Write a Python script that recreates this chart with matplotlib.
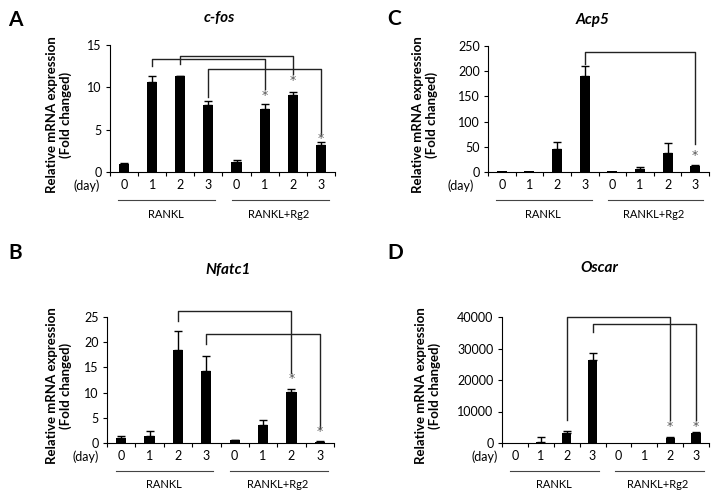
import numpy as np, matplotlib
matplotlib.use("Agg")
import matplotlib.pyplot as plt

plt.rcParams["font.family"] = ["Lato", "DejaVu Sans"]

W, H = 718, 499
DAYS = ["0", "1", "2", "3", "0", "1", "2", "3"]
GROUPS = ["RANKL", "RANKL+Rg2"]

# mean and absolute top of the (upper only) error bar
CFOS_MEAN = [1.0, 10.6, 11.3, 7.9, 1.2, 7.5, 9.1, 3.2]
CFOS_TOP = [1.1, 11.3, 11.35, 8.4, 1.45, 8.0, 9.4, 3.55]
NFATC1_MEAN = [0.9, 1.3, 18.55, 14.3, 0.5, 3.6, 10.1, 0.26]
NFATC1_TOP = [1.45, 2.3, 22.2, 17.3, 0.65, 4.6, 10.7, 0.4]
ACP5_MEAN = [1.0, 1.0, 46, 190, 1.0, 6.6, 38, 11]
ACP5_TOP = [1.0, 1.0, 60, 210, 1.0, 10, 58, 14.5]
OSCAR_MEAN = [1, 300, 3160, 26300, 1, 1, 1470, 3260]
OSCAR_TOP = [1, 1800, 3700, 28600, 1, 1, 2000, 3470]

# brackets: (left cat, right cat, top, left end, right end)
CFOS_BR = [(1, 5, 13.4, 12.5, 9.8), (2, 6, 13.7, 12.7, 11.6), (3, 7, 12.2, 8.8, 4.5)]
NFATC1_BR = [(2, 6, 26.1, 24.3, 13.8), (3, 7, 21.6, 19.7, 3.0)]
ACP5_BR = [(3, 7, 238, 215, 56)]
OSCAR_BR = [(2, 6, 40000, 7400, 7400), (3, 7, 37900, 35300, 7400)]
# asterisks: (cat, y)
CFOS_ST = [(5, 9.0), (6, 10.8), (7, 3.9)]
NFATC1_ST = [(6, 12.7), (7, 2.2)]
ACP5_ST = [(7, 33)]
OSCAR_ST = [(6, 5300), (7, 5300)]

# layout in pixels: axes box (x0, y_top, x1, y_bottom)
PANELS = [
    dict(letter="A", title="c-fos", mean=CFOS_MEAN, top=CFOS_TOP, br=CFOS_BR, st=CFOS_ST,
         yt=[0, 5, 10, 15], box=(110, 45, 335, 172), lpos=(15, 20), tpos=(219, 18),
         ylx=59, dayx=87),
    dict(letter="C", title="Acp5", mean=ACP5_MEAN, top=ACP5_TOP, br=ACP5_BR, st=ACP5_ST,
         yt=[0, 50, 100, 150, 200, 250], box=(488, 46, 709, 172), lpos=(394, 19), tpos=(593, 20),
         ylx=425, dayx=461),
    dict(letter="B", title="Nfatc1", mean=NFATC1_MEAN, top=NFATC1_TOP, br=NFATC1_BR, st=NFATC1_ST,
         yt=[0, 5, 10, 15, 20, 25], box=(107, 317, 334, 443), lpos=(15, 253), tpos=(228, 270),
         ylx=59, dayx=86),
    dict(letter="D", title="Oscar", mean=OSCAR_MEAN, top=OSCAR_TOP, br=OSCAR_BR, st=OSCAR_ST,
         yt=[0, 10000, 20000, 30000, 40000], box=(502, 317, 709, 443), lpos=(395, 253), tpos=(599, 268),
         ylx=428, dayx=485),
]

fig = plt.figure(figsize=(W / 100, H / 100), dpi=100)
fig.patch.set_facecolor("white")

for p in PANELS:
    x0, yt0, x1, yb = p["box"]
    ax = fig.add_axes([x0 / W, 1 - yb / H, (x1 - x0) / W, (yb - yt0) / H])
    ahp = yb - yt0
    x = np.arange(8) + 0.5
    mean = np.array(p["mean"], float); top = np.array(p["top"], float)
    has = top > mean
    ax.bar(x, mean, width=0.36, color="black", zorder=2)
    ax.errorbar(x[has], mean[has], yerr=[np.zeros(has.sum()), (top - mean)[has]], fmt="none",
                ecolor="black", elinewidth=1, capsize=3, capthick=1, zorder=1)
    ax.set_xlim(0, 8); ax.set_ylim(0, p["yt"][-1])
    ax.set_yticks(p["yt"])
    ax.set_xticks(np.arange(9)); ax.set_xticklabels([])
    ax.set_xticks(x, minor=True); ax.set_xticklabels(DAYS, minor=True)
    ax.tick_params(axis="x", which="major", length=3, width=0.8, direction="out")
    ax.tick_params(axis="x", which="minor", length=0, pad=5, labelsize=9)
    ax.tick_params(axis="y", length=3, width=0.8, labelsize=9, pad=3)
    for s in ["top", "right"]: ax.spines[s].set_visible(False)
    for s in ["left", "bottom"]: ax.spines[s].set_linewidth(0.8)
    # significance brackets
    for l, r, ytop, yl, yr in p["br"]:
        ax.plot([l + 0.5, l + 0.5, r + 0.5, r + 0.5], [yl, ytop, ytop, yr], color="#222222", lw=1,
                clip_on=False, zorder=3)
    for c, y in p["st"]:
        ax.text(c + 0.5, y, "*", ha="center", va="center", fontsize=9, color="#555555",
                family="DejaVu Sans")
    # group underline + labels
    tr = ax.get_xaxis_transform()
    for (a, b), g, gc in zip([(0.3, 3.75), (4.35, 7.8)], GROUPS, [2, 6]):
        ax.plot([a, b], [-28 / ahp, -28 / ahp], color="#444444", lw=0.8, transform=tr, clip_on=False)
        ax.text(gc, -42 / ahp, g, transform=tr, ha="center", va="center", fontsize=8)
    fig.text(p["dayx"] / W, 1 - (yb + 14) / H, "(day)", ha="center", va="center", fontsize=9)
    fig.text(p["ylx"] / W, 1 - ((yt0 + yb) / 2 + 6) / H, "Relative mRNA expression\n(Fold changed)",
             rotation=90, ha="center", va="center", fontsize=9.5, fontweight="bold", linespacing=1.15)
    fig.text(p["tpos"][0] / W, 1 - p["tpos"][1] / H, p["title"], ha="center", va="center",
             fontsize=11, fontweight="bold", fontstyle="italic")
    fig.text(p["lpos"][0] / W, 1 - p["lpos"][1] / H, p["letter"], ha="center", va="center",
             fontsize=15, fontweight="bold")

fig.savefig("out.png", dpi=100)
